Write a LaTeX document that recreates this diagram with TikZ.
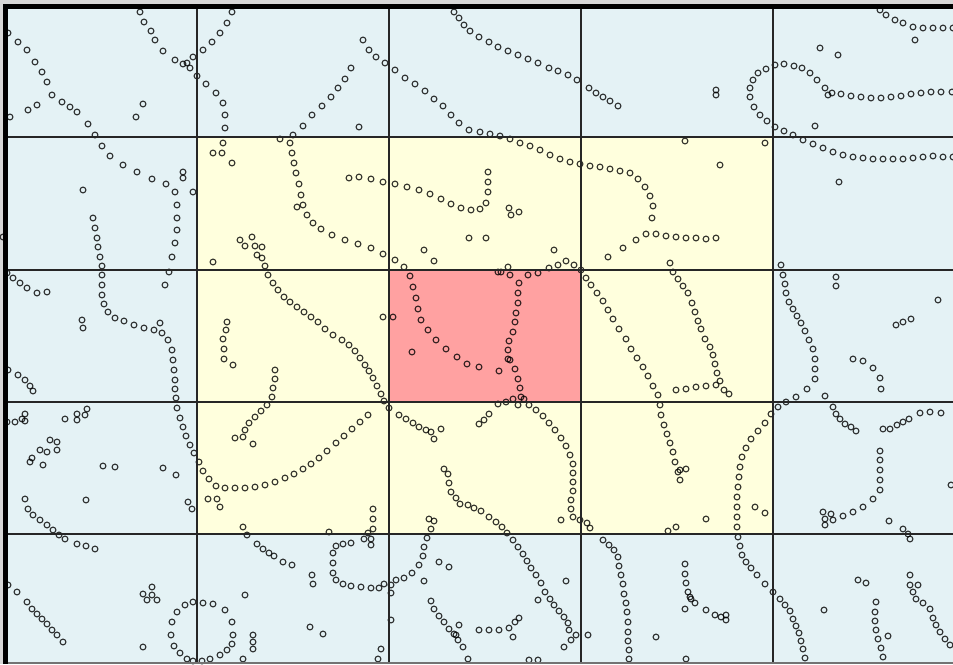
\documentclass[tikz,border=0pt]{standalone}
\definecolor{cblue}{RGB}{228,242,245}
\definecolor{cyel}{RGB}{255,255,221}
\definecolor{cred}{RGB}{255,161,161}
\definecolor{edge}{RGB}{215,215,215}
\tikzset{
 circ/.style={draw=black, draw opacity=0.78, line width=1.15pt},
 gridline/.style={draw=black!85, line width=1.6pt},
}
\newcommand\rings[1]{\foreach \xx/\yy in {#1} \draw[circ] (\xx,\yy) circle (2.9pt);}
\begin{document}
\begin{tikzpicture}[x=1pt,y=-1pt]
\useasboundingbox (0,0) rectangle (953,664);
\fill[edge] (0,0) rectangle (953,664);
% cells
\fill[cblue] (8,9) rectangle (953,664);
\fill[cyel] (197,137) rectangle (773,534);
\fill[cred] (389,270) rectangle (581,402);
% chains
\rings{8/33,18/42,27/50,35/62,42/72,47/82,52/95,62/102,70/107,77/112,88/124,95/135,102/146,110/156,123/165,137/172,152/179,166/184,175/192,177/205,177/218,177/230,175/243,172/257,169/272,165/285}
\rings{140/12,144/22,151/31,155/40,163/51,175/60,183/64,190/68,197/76,206/84,216/93,223/103,225/115,225/128,223/143}
\rings{232/12,227/23,220/33,212/42,203/50,193/57,187/63}
\rings{290/143,292/153,294/163,296/173,299/184,301/195,303/205,307/215,313/223,321/229,332/235,345/240,358/244,371/248,383/254,395/260,404/267,410/276,413/287,416/298,418/309,421/320,428/330,436/340,446/349,457/357,467/364,479/367}
\rings{280/139,293/135,303/126,312/115,322/106,331/97,338/88,345/79,351/68}
\rings{363/40,369/50,376/57,385/63,395/70,405/78,415/84,425/91,434/99,443/106,451/115,459/123,469/130,480/132,490/134,500/136,510/139,520/143,530/146,540/150,550/155,560/159,570/162,580/164,590/166,600/167,610/169,620/171,630/173,638/179,645/187,650/196,653/206,652/218}
\rings{608/257,623/248,636/240,646/234,656/234,666/236,676/237,686/238,696/238,706/239,716/238}
\rings{454/12,459/18,464/25,470/31,479/37,489/42,498/47,508/51,518/55,528/59,538/63,549/68,558/71,568/75,577/80,589/88,596/93,603/97,610/101,618/106}
\rings{349/178,359/177,371/179,383/182,395/184,407/187,419/190,430/194,441/199,451/204,461/208,471/210,480/209,486/203,488/192,488/182,488/172}
\rings{528/275,538/273,549/268,558/265,566/261,574/265,581/270,586/278,591/285,597/293,603/301,608/310,613/319,619/329,626/339,631/349,637/358,643/367,648/376,653/386,658/395,660/405,661/415,664/425,667/434,670/443,673/452,675/462,680/470}
\rings{519/283,518/293,518/303,516/313,515/322,513/332,509/341,508/350,510/360,515/369,518/379,520/388,521/397,518/405}
\rings{529/405,536/410,543/416,549/423,555/430,561/438,566/446,570/455,573/464,573/473,573/482,573/491,571/500,571/509,573/517,580/520,587/523,590/528}
\rings{880/10,886/15,895/20,903/23,913/27,923/28,933/28,943/28,953/28}
\rings{952/92,941/92,931/92,921/93,911/94,901/96,891/97,881/98,871/98,861/97,851/96,841/94,832/93,825/88,817/80,810/73,802/68,794/66,784/64,775/65,766/69,758/73,753/80,750/88,750/97,754/107,760/115,767/121,775/127,784/131,793/135,803/140,813/144,823/148,833/152,843/155,853/157,863/158,873/159,883/159,893/159,903/159,913/158,923/157,933/156,943/157,953/157}
\rings{670/263,673/272,678/279,683/286,688/293,692/303,695/312,698/321,701/329,705/339,710/347,713/355,715/364,717/373,720/381,724/390,729/394}
\rings{676/390,686/389,696/387,706/386,716/385}
\rings{781/265,783/275,785/284,786/293,789/302,793/309,797/316,801/323,805/331,809/340,813/349,815/359,815/369,815/379,807/389,796/397,786/402,778/407,771/414,765/423,758/431,751/439,746/448,742/457,740/467,739/477,738/487,737/497,737/507,737/517,737/527,738/537,740/546,742/555,746/562,751/568,757/575,765/584,773/592,780/599,785/605,790/611,793/619,796/626,799/633,801/641,803/649,805/658}
\rings{853/359,863/361,873/368,880/378,881/389}
\rings{833/407,836/414,840/419,845/424,851/427,856/431}
\rings{883/429,890/429,897/425,903/422,909/419}
\rings{920/413,930/412,941/413}
\rings{880/451,880/460,880/470,880/480,880/490,873/499,863/507,853/512,843/516,833/520,825/525}
\rings{685/564,685/574,686/583,688/592,691/599,695/603}
\rings{706/610,715/615,721/617,726/615}
\rings{876/602,875/612,875/621,876/630,878/639,881/648,883/657}
\rings{910/585,913/592,916/599,923/603,930/609,933/618,936/625,940/632,945/639,950/645}
\rings{7/273,13/278,20/283,27/288,37/293,47/292}
\rings{93/218,95/228,97/238,98/247,100/257,102/266,102/275,102/285,102/295,104/304,108/312,115/318,124/321,134/325,144/328,154/330,162/333,168/340,172/350,173/360,174/370,175/380,175/389,176/398,177/408,180/418,183/427,186/436,190/445,194/453,199/462,203/471,209/479,216/486,225/488,235/488,245/488,255/487,265/485,275/482,285/478,294/474,303/469,311/464,319/458,327/451,336/443,344/436,352/429,360/422,368/415}
\rings{257/255,262/258,265/266,268/275,273/283,278/290,284/297,290/302,297/307,304/312,311/317,318/322,325/329,333/335,342/340,349/345,355/351,360/358,365/365,369/371,373/378,377/386,381/394,384/401}
\rings{227/322,226/330,223/339,224/349,224/359,233/365}
\rings{275/370,275/379,273/388,272/397,267/405,261/411,255/417,249/423,245/430,243/437}
\rings{8/370,18/375,25/380,30/386,33/391}
\rings{25/499,28/509,33/515,40/520,47/525,53/530,59/535,65/539,77/544,86/546,95/549}
\rings{243/527,247/535,257/544,263/549,269/553,274/556,283/562,292/565}
\rings{8/585,17/592,27/602,32/609,37/614,42/619,47/624,52/630,57/635,63/642}
\rings{193/602,203/603,213/604,225/610,232/622,233/635,232/644,227/650,220/655,210/659,202/661,193/661,187/659,180/653,174/646,171/635,172/622,177/612,185/605}
\rings{389/408,399/415,406/419,413/423,419/427,426/430,431/432,434/439}
\rings{479/424,484/420,489/414}
\rings{444/469,448/474,449/483,451/492,456/498,460/504,468/505,474/508,481/511,489/517,496/522,502/527,507/533,513/540,518/547,523/554,527/561,531/568,536/575,541/583,545/592,550/599,554/605,559/611,564/617,568/623,569/630}
\rings{373/509,373/519,373/529,368/533,364/539}
\rings{429/519,434/521,431/529,427/538,424/547,423/556,419/565,412/573,404/578,396/580,391/585,391/593}
\rings{351/543,343/544,336/546,333/553,333/563,333/573,336/580,343/584,351/586,361/587,371/588,379/588,384/584}
\rings{431/601,434/609,439/616,444/622,449/629,454/634,458/640,463/647,468/659}
\rings{479/630,489/630,499/630,509/628,515/622,519/618}
\rings{603/540,609/545,614/550,618/557,619/566,621/575,623/584,624/594,626/603,627/612,628/622,628/632,628/641,629/650,629/659}
\rings{896/325,903/322,911/319}
% loose circles
\rings{28/110,37/105,10/117,143/104,136/117,83/190,183/172,183/178,193/192,213/153,222/153,232/163,213/262,297/207,82/320,83/328,160/323,3/237,359/127,509/208,519/212,511/215,469/238,486/238,424/250,434/261,554/250,501/272,508/267,498/272,510/275,383/317,393/317,412/352,499/371,498/404,506/402,513/399,524/399,508/359,686/469,678/472,680/480,561/520,915/40,820/48,838/55,716/90,716/95,815/126,839/182,685/141,765/143,720/165,828/95}
\rings{836/277,836/286,938/300,825/396,823/512,831/514,825/519,889/521,903/529,908/534,910/539,951/485,685/609,690/597,726/620,656/637,686/659,858/580,866/583,824/610,888/636,910/575,918/585}
\rings{240/240,245/246,252/237,255/246,262/247,235/438,253/444,7/422,15/422,22/419,25/414,25/421,65/419,77/420,77/414,85/415,87/409,50/440,57/442,40/450,47/452,57/450,30/462,32/458,43/465,103/466,115/467,163/468,176/475,86/500,188/502,192/509,208/499,217/499,220/507}
\rings{312/575,313/584,245/595,310/627,253/635,253/642,253/649,243/659,152/587,143/594,152/595,157/600,147/600,143/647,441/429,564/647,571/640,576/635,566/581,538/600,588/635,371/539,371/545,329/532,391/620,381/649,378/659,323/634,439/562,449/567,424/581,459/625,456/635,513/637,529/660,538/660,706/519,755/507,765/513,668/531,676/527}
% grid lines
\foreach \gx in {197,389,581,773} \draw[gridline] (\gx,9) -- (\gx,662);
\foreach \gy in {137,270,402,534} \draw[gridline] (8,\gy) -- (953,\gy);
\draw[line width=1.5pt, black!55] (8,663) -- (953,663);
\draw[line width=4.5pt, black] (3,6.5) -- (953,6.5);
\draw[line width=5pt, black] (5.5,4) -- (5.5,664);
\end{tikzpicture}
\end{document}
